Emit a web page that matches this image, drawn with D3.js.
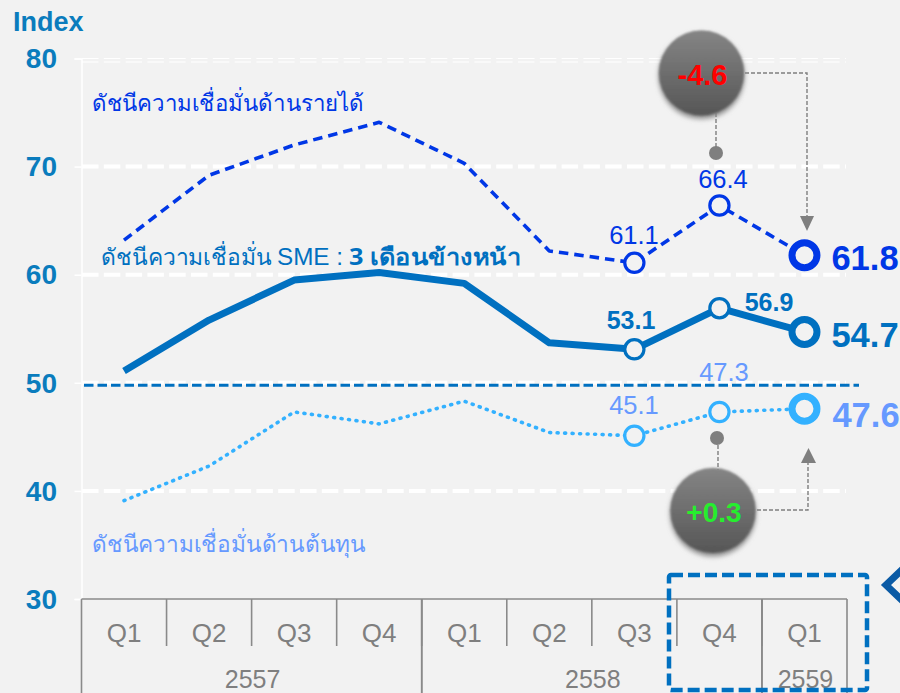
<!DOCTYPE html>
<html><head><meta charset="utf-8">
<script src="https://cdn.jsdelivr.net/npm/d3@7"></script>
<style>html,body{margin:0;padding:0;background:#f2f2f2;overflow:hidden}svg{display:block}text{font-family:"Liberation Sans",Arial,sans-serif}</style>
</head><body><div id="c"></div>
<script>
const quarters=["Q1","Q2","Q3","Q4","Q1","Q2","Q3","Q4","Q1"];
const keys=d3.range(9);
const revenue=[63.2,69.2,72,74.1,70.3,62.2,61.1,66.4,61.8];
const overall=[51.1,55.8,59.5,60.2,59.2,53.7,53.1,56.9,54.7];
const cost=[39.1,42.3,47.3,46.2,48.3,45.4,45.1,47.3,47.6];
const yTicks=[30,40,50,60,70,80];
const years=[{label:"2557",from:0,to:4},{label:"2558",from:4,to:8},{label:"2559",from:8,to:9}];
const baseline=50;
const labelRevenue="ดัชนีความเชื่อมั่นด้านรายได้";
const labelOverallA="ดัชนีความเชื่อมั่น";
const labelOverallSme="SME :";
const labelOverallB="3 เดือนข้างหน้า";
const labelCost="ดัชนีความเชื่อมั่นด้านต้นทุน";

const W=900,H=693;
const svg=d3.select("#c").append("svg").attr("width",W).attr("height",H);
svg.append("rect").attr("width",W).attr("height",H).attr("fill","#f2f2f2");
const y=d3.scaleLinear().domain([30,80]).range([599,58.5]);
const x=d3.scaleBand().domain(keys).range([81.5,847]);
const cx=i=>x(i)+x.bandwidth()/2;
const defs=svg.append("defs");
const grad=defs.append("linearGradient").attr("id","ball").attr("x1",0).attr("x2",0).attr("y1",0).attr("y2",1);
grad.append("stop").attr("offset",0).attr("stop-color","#858585");
grad.append("stop").attr("offset",1).attr("stop-color","#565656");
defs.append("filter").attr("id","soft").attr("x","-20%").attr("y","-20%").attr("width","140%").attr("height","140%")
  .append("feGaussianBlur").attr("stdDeviation",1.2);
const sh=defs.append("filter").attr("id","shadow").attr("x","-30%").attr("y","-30%").attr("width","160%").attr("height","160%");
sh.append("feGaussianBlur").attr("stdDeviation",2.5);

// gridlines
const grid=svg.append("g");
[80,70,60,50,40].forEach(v=>{
  grid.append("line").attr("x1",82).attr("x2",846).attr("y1",y(v)).attr("y2",y(v))
   .attr("stroke","#fff").attr("stroke-width",v===80?1.2:4).attr("stroke-dasharray","16.5 5.3");
  if(v===80) grid.append("line").attr("x1",82).attr("x2",846).attr("y1",y(v)+3.5).attr("y2",y(v)+3.5)
   .attr("stroke","#fff").attr("stroke-width",1.2).attr("stroke-dasharray","16.5 5.3");
});
// y axis
const ya=svg.append("g").attr("transform","translate(81.5,0)").call(d3.axisLeft(y).tickValues(yTicks).tickSize(7).tickFormat(d3.format("d")));
ya.selectAll("path,line").attr("stroke","#fff").attr("stroke-width",1.5);
ya.selectAll("text").attr("font-size",28).attr("font-weight","bold").attr("fill","#0a7cbd").attr("x",-24.5).attr("dy","0.33em");
svg.append("text").attr("x",13).attr("y",31).attr("font-size",27).attr("font-weight","bold").attr("fill","#0a7cbd").text("Index");

// category table
const ln="#8a8a8a",tableTop=599;
const tbl=svg.append("g").attr("stroke",ln).attr("stroke-width",1.6);
tbl.append("line").attr("x1",x(0)).attr("x2",x(8)+x.bandwidth()).attr("y1",tableTop).attr("y2",tableTop);
keys.forEach(i=>{ if(i>0) tbl.append("line").attr("x1",x(i)).attr("x2",x(i)).attr("y1",tableTop).attr("y2",646); });
years.forEach(r=>{
  const a=x(r.from), b=r.to<9?x(r.to):x(8)+x.bandwidth();
  tbl.append("line").attr("x1",a).attr("x2",a).attr("y1",tableTop).attr("y2",693);
  tbl.append("line").attr("x1",b).attr("x2",b).attr("y1",tableTop).attr("y2",693);
  svg.append("text").attr("x",(a+b)/2+1).attr("y",688).attr("text-anchor","middle").attr("font-size",25).attr("fill","#7f7f7f").text(r.label);
});
svg.selectAll(".q").data(keys).enter().append("text").attr("x",cx).attr("y",642).attr("text-anchor","middle")
  .attr("font-size",26).attr("fill","#7f7f7f").text(i=>quarters[i]);

// baseline
svg.append("line").attr("x1",84).attr("x2",859).attr("y1",y(baseline)+2.5).attr("y2",y(baseline)+2.5)
  .attr("stroke","#0070c0").attr("stroke-width",3).attr("stroke-dasharray","9.5 4");

// series
const lineGen=d3.line().x((d,i)=>cx(i)).y(d=>y(d));
function series(vals,col,w,dash,cap){
  svg.append("path").attr("d",lineGen(vals)).attr("fill","none").attr("stroke",col).attr("stroke-width",w)
    .attr("stroke-dasharray",dash).attr("stroke-linecap",cap).attr("stroke-linejoin","round");
  [6,7].forEach(i=>svg.append("circle").attr("cx",cx(i)).attr("cy",y(vals[i])).attr("r",9.6).attr("fill","#f2f2f2").attr("stroke",col).attr("stroke-width",3.2));
  svg.append("circle").attr("cx",cx(8)).attr("cy",y(vals[8])).attr("r",12.5).attr("fill","#f2f2f2").attr("stroke",col).attr("stroke-width",7);
}
series(revenue,"#0037e6",3.6,"9.5 6","butt");
series(overall,"#0070c0",7,null,"butt");
series(cost,"#33b1ff",3.6,"1 6.5","round");

// value labels
const tx=(x0,y0,s,size,col,b)=>svg.append("text").attr("x",x0).attr("y",y0).attr("font-size",size).attr("fill",col)
  .attr("font-weight",b?"bold":"normal").attr("text-anchor","middle").text(s);
tx(634,244,revenue[6].toFixed(1),25.5,"#0037e6",false);
tx(723,188,revenue[7].toFixed(1),25.5,"#0037e6",false);
tx(865,270,revenue[8].toFixed(1),34.5,"#0037e6",true);
tx(631,329,overall[6].toFixed(1),25,"#0070c0",true);
tx(769,311,overall[7].toFixed(1),25,"#0070c0",true);
tx(865,347,overall[8].toFixed(1),34.5,"#0070c0",true);
tx(724,381,cost[7].toFixed(1),25.5,"#6699ff",false);
tx(634,414,cost[6].toFixed(1),25.5,"#6699ff",false);
tx(866,427,cost[8].toFixed(1),34.5,"#6699ff",true);

// Thai labels
const thai='"Noto Sans","DejaVu Sans",sans-serif';
svg.append("text").attr("x",92).attr("y",111).attr("font-size",23).attr("fill","#0037e6").style("font-family",thai).attr("textLength",272).attr("lengthAdjust","spacingAndGlyphs").text(labelRevenue);
svg.append("text").attr("x",101).attr("y",265).attr("font-size",23).attr("fill","#0070c0").style("font-family",thai).attr("textLength",171).attr("lengthAdjust","spacingAndGlyphs").text(labelOverallA);
svg.append("text").attr("x",277).attr("y",265).attr("font-size",24).attr("fill","#0070c0").attr("textLength",66).attr("lengthAdjust","spacingAndGlyphs").text(labelOverallSme);
svg.append("text").attr("x",349).attr("y",265).attr("font-size",23).attr("font-weight","bold").attr("fill","#0070c0").style("font-family",thai).attr("textLength",172).attr("lengthAdjust","spacingAndGlyphs").text(labelOverallB);
svg.append("text").attr("x",92).attr("y",552).attr("font-size",23).attr("fill","#6699ff").style("font-family",thai).attr("textLength",274).attr("lengthAdjust","spacingAndGlyphs").text(labelCost);

// callouts
const conn=d=>svg.append("path").attr("d",d).attr("fill","none").attr("stroke","#7f7f7f").attr("stroke-width",1.4).attr("stroke-dasharray","4 2");
conn("M716,113V153");
conn("M745,73H807V216");
conn("M718,445V470");
conn("M757,510H808V462");
svg.append("circle").attr("cx",716).attr("cy",153).attr("r",7).attr("fill","#7f7f7f");
svg.append("circle").attr("cx",717).attr("cy",438).attr("r",7).attr("fill","#7f7f7f");
svg.append("path").attr("d",d3.line()([[800,216],[814,216],[807,231]])+"Z").attr("fill","#7f7f7f");
svg.append("path").attr("d",d3.line()([[801,463],[816,463],[808.5,448]])+"Z").attr("fill","#7f7f7f");
function ball(cx0,cy0,s,col,ty,fs){
  svg.append("circle").attr("cx",cx0).attr("cy",cy0+3).attr("r",43).attr("fill","#8c8c8c").attr("filter","url(#shadow)");
  svg.append("circle").attr("cx",cx0).attr("cy",cy0).attr("r",42.5).attr("fill","url(#ball)").attr("filter","url(#soft)");
  svg.append("text").attr("x",cx0+1).attr("y",ty).attr("text-anchor","middle").attr("font-size",fs).attr("font-weight","bold").attr("fill",col).text(s);
}
ball(701.5,73,"-4.6","#ff0000",85,29);
ball(713,510.5,"+0.3","#26ee2e",522,28);

// highlight box and chevron
svg.append("rect").attr("x",669).attr("y",575).attr("width",198).attr("height",115).attr("rx",2).attr("fill","none")
  .attr("stroke","#0070c0").attr("stroke-width",4.5).attr("stroke-dasharray","12 5");
svg.append("path").attr("d","M906,566L886,585L906,604").attr("fill","none").attr("stroke","#0a5aa5").attr("stroke-width",7);
</script></body></html>
